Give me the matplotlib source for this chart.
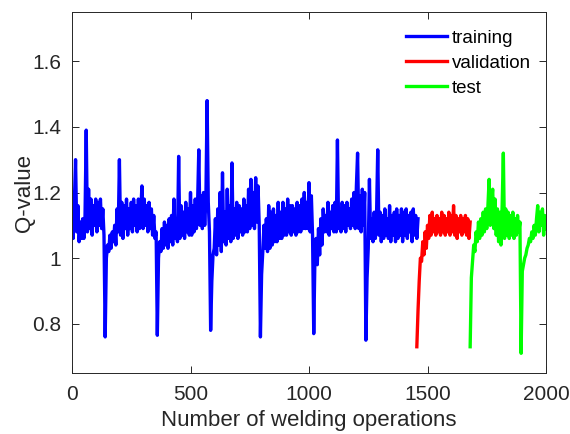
import numpy as np
import matplotlib
matplotlib.use("Agg")
import matplotlib.pyplot as plt

# ====== DATA (Q-value, one value every 5 operations) ======
STEP = 5

train_start = 0
train_q = [
    1.12, 1.06, 1.17, 1.30, 1.08, 1.16, 1.05, 1.11, 1.06, 1.12,
    1.06, 1.13, 1.39, 1.08, 1.21, 1.09, 1.18, 1.07, 1.16, 1.10,
    1.18, 1.08, 1.17, 1.10, 1.18, 1.09, 1.15, 1.07, 0.76, 1.00,
    1.04, 1.02, 1.07, 1.03, 1.08, 1.05, 1.10, 1.04, 1.15, 1.08,
    1.30, 1.07, 1.17, 1.06, 1.16, 1.09, 1.18, 1.07, 1.15, 1.09,
    1.17, 1.08, 1.18, 1.10, 1.16, 1.08, 1.18, 1.09, 1.14, 1.22,
    1.09, 1.18, 1.10, 1.16, 1.08, 1.17, 1.09, 1.15, 1.07, 1.13,
    1.06, 1.08, 0.765, 1.00, 1.05, 1.02, 1.09, 1.03, 1.11, 1.04,
    1.10, 1.03, 1.12, 1.05, 1.13, 1.04, 1.18, 1.06, 1.11, 1.05,
    1.31, 1.06, 1.16, 1.07, 1.14, 1.06, 1.17, 1.08, 1.15, 1.07,
    1.20, 1.07, 1.16, 1.08, 1.18, 1.09, 1.17, 1.33, 1.10, 1.19,
    1.09, 1.20, 1.10, 1.18, 1.48, 1.17, 1.08, 0.78, 0.93, 1.01,
    1.03, 1.12, 1.01, 1.15, 1.04, 1.20, 1.02, 1.26, 1.05, 1.14,
    1.04, 1.21, 1.06, 1.16, 1.05, 1.29, 1.06, 1.15, 1.07, 1.17,
    1.06, 1.16, 1.08, 1.15, 1.07, 1.18, 1.08, 1.16, 1.08, 1.21,
    1.09, 1.24, 1.10, 1.20, 1.09, 1.245, 1.11, 1.22, 1.10, 0.76,
    0.95, 1.02, 1.10, 1.03, 1.12, 1.02, 1.16, 1.03, 1.14, 1.04,
    1.15, 1.05, 1.13, 1.05, 1.17, 1.06, 1.14, 1.06, 1.17, 1.07,
    1.15, 1.07, 1.18, 1.08, 1.16, 1.07, 1.16, 1.08, 1.15, 1.07,
    1.17, 1.08, 1.16, 1.08, 1.18, 1.09, 1.20, 1.09, 1.17, 1.09,
    1.23, 1.08, 1.19, 1.07, 0.77, 1.00, 1.06, 0.98, 1.09, 1.01,
    1.12, 1.04, 1.15, 1.08, 1.13, 1.08, 1.17, 1.07, 1.14, 1.09,
    1.16, 1.08, 1.17, 1.08, 1.36, 1.09, 1.15, 1.08, 1.17, 1.09,
    1.16, 1.08, 1.17, 1.10, 1.15, 1.09, 1.18, 1.10, 1.20, 1.09,
    1.22, 1.32, 1.09, 1.19, 1.08, 1.21, 1.10, 1.20, 0.75, 0.94,
    1.03, 1.24, 1.06, 1.12, 1.05, 1.14, 1.06, 1.13, 1.33, 1.07,
    1.14, 1.05, 1.13, 1.06, 1.15, 1.07, 1.12, 1.06, 1.16, 1.05,
    1.13, 1.07, 1.14, 1.05, 1.15, 1.06, 1.13, 1.07, 1.15, 1.05,
    1.14, 1.07, 1.15, 1.06, 1.13, 1.08, 1.14, 1.05, 1.15, 1.07,
    1.13, 1.06, 1.12,
]

val_start = 1455
val_q = [
    0.73, 0.84, 0.93, 1.00, 0.99, 1.05, 1.01, 1.08, 1.03, 1.10,
    1.06, 1.13, 1.07, 1.14, 1.08, 1.12, 1.07, 1.13, 1.08, 1.12,
    1.07, 1.14, 1.08, 1.13, 1.07, 1.12, 1.08, 1.14, 1.07, 1.13,
    1.08, 1.16, 1.07, 1.13, 1.06, 1.12, 1.08, 1.13, 1.07, 1.12,
    1.08, 1.13, 1.07, 1.12, 1.06, 1.11,
]

test_start = 1680
test_q = [
    0.73, 0.94, 0.99, 1.04, 1.02, 1.08, 1.05, 1.11, 1.06, 1.12,
    1.07, 1.14, 1.08, 1.15, 1.09, 1.16, 1.24, 1.10, 1.17, 1.21,
    1.09, 1.18, 1.07, 1.15, 1.05, 1.14, 1.04, 1.16, 1.32, 1.06,
    1.15, 1.07, 1.14, 1.06, 1.13, 1.07, 1.14, 1.06, 1.12, 1.07,
    1.13, 1.08, 1.11, 0.71, 0.96, 0.98, 1.00, 1.01, 1.03, 1.04,
    1.06, 1.05, 1.08, 1.06, 1.10, 1.07, 1.12, 1.16, 1.08, 1.14,
    1.10, 1.15, 1.07, 1.13, 1.09,
]

x_ticks = [0, 500, 1000, 1500, 2000]
y_ticks = [0.8, 1.0, 1.2, 1.4, 1.6]
y_tick_labels = ["0.8", "1", "1.2", "1.4", "1.6"]

# ====== PLOT ======
plt.rcParams["font.family"] = ["Liberation Sans", "DejaVu Sans"]

fig = plt.figure(figsize=(5.7, 4.34), dpi=100)
ax = fig.add_axes([72 / 570, 1 - 373 / 434, 474 / 570, 361 / 434])

series = [
    (train_start, train_q, "blue", "training"),
    (val_start, val_q, "red", "validation"),
    (test_start, test_q, "#00ff00", "test"),
]
for start, q, color, name in series:
    x = start + STEP * np.arange(len(q))
    ax.plot(x, q, color=color, lw=2.4, label=name)

ax.set_xlim(0, 2000)
ax.set_ylim(0.65, 1.75)
ax.set_xticks(x_ticks)
ax.set_yticks(y_ticks)
ax.set_yticklabels(y_tick_labels)

axis_grey = "#262626"
for side in ax.spines.values():
    side.set_color(axis_grey)
    side.set_linewidth(0.7)
ax.tick_params(direction="in", length=5, width=0.7, colors=axis_grey,
               labelsize=15, top=True, right=True)
ax.tick_params(axis="x", pad=9)
ax.tick_params(axis="y", pad=8)
for lbl in ax.get_xticklabels() + ax.get_yticklabels():
    lbl.set_color(axis_grey)

ax.set_xlabel("Number of welding operations", fontsize=16, color=axis_grey, labelpad=4)
ax.set_ylabel("Q-value", fontsize=16, color=axis_grey, labelpad=-2)

ax.legend(loc="upper left", bbox_to_anchor=(0.705, 0.951), frameon=False,
          fontsize=13.5, handlelength=2.2, handletextpad=0.25, labelspacing=0.42,
          borderpad=0, borderaxespad=0)

fig.savefig("out.png", dpi=100)
